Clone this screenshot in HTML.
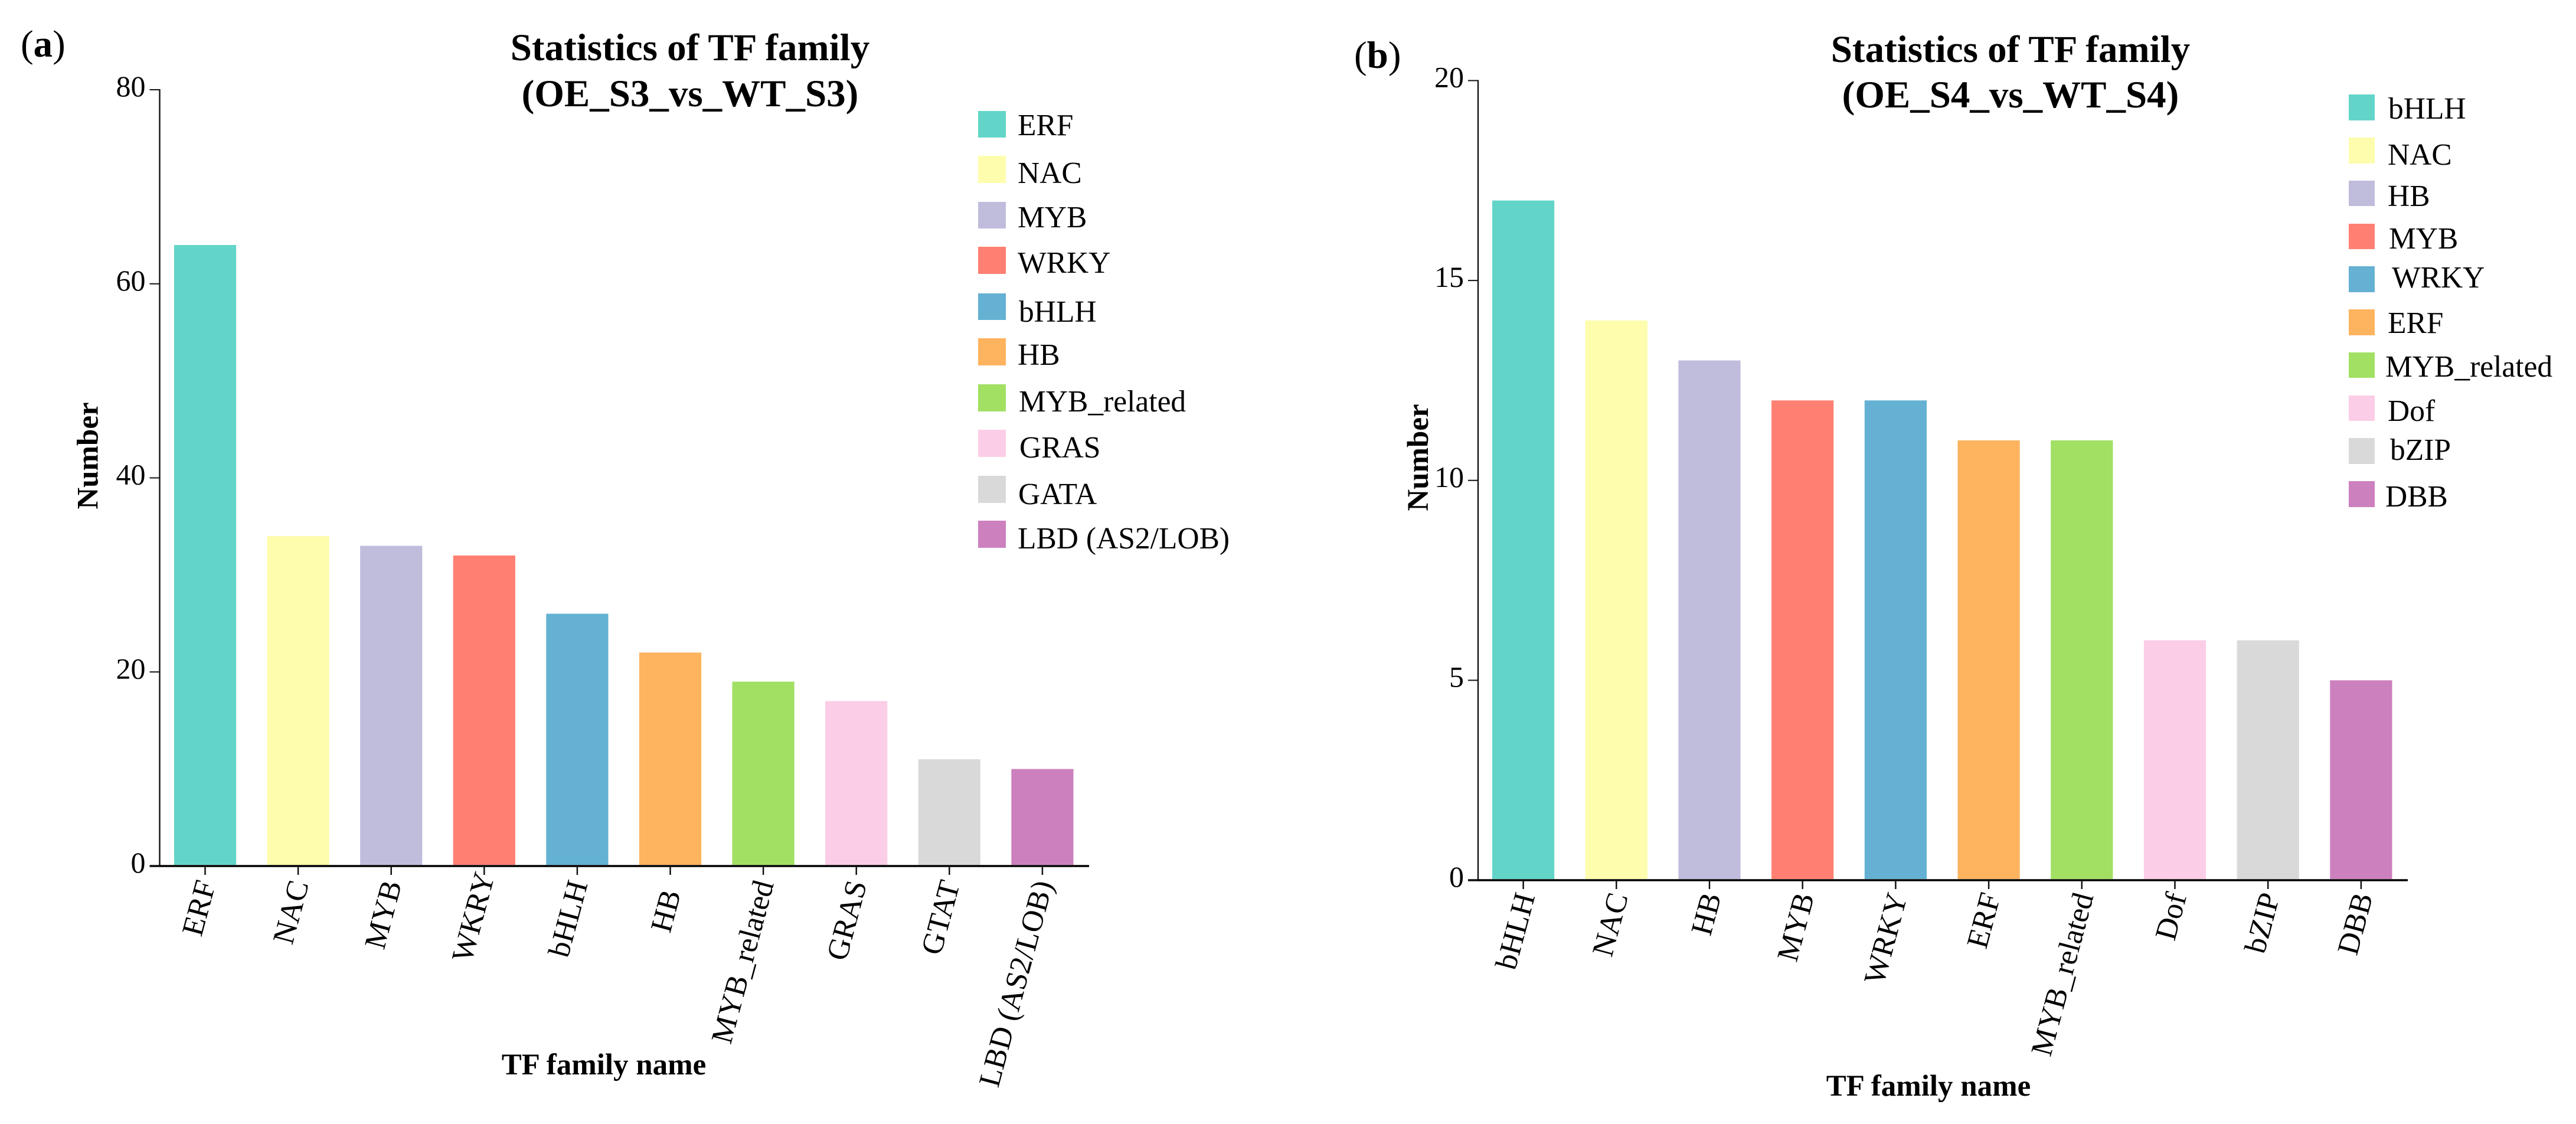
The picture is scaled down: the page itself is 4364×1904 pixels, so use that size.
<!DOCTYPE html>
<html lang="en">
<head>
<meta charset="utf-8">
<title>Statistics of TF family</title>
<style>
  html, body { margin: 0; padding: 0; background: #fff; }
  svg { display: block; font-family: "Liberation Serif", serif; }
  .title { font-size: 65px; font-weight: bold; text-anchor: middle; }
  .axis-title { font-size: 51px; font-weight: bold; text-anchor: middle; }
  .panel { font-size: 65px; }
  .panel tspan.b { font-weight: bold; }
  .legend-text { font-size: 51.5px; }
</style>
</head>
<body>
<svg id="figure" xmlns="http://www.w3.org/2000/svg" width="4364" height="1904" viewBox="0 0 4364 1904">
  <rect width="4364" height="1904" fill="#ffffff"/>

  <text class="panel" x="35" y="96">(<tspan class="b">a</tspan>)</text>
  <text class="title" x="1169" y="102">Statistics of TF family</text>
  <text class="title" x="1169" y="180">(OE_S3_vs_WT_S3)</text>
  <text class="axis-title" transform="translate(165.5 772) rotate(-90)">Number</text>
  <text class="axis-title" x="1023" y="1820">TF family name</text>
  <g id="chart-a"></g>

  <g>
    <rect x="1657" y="188" width="47" height="45" fill="#62d5c8"/>
    <text class="legend-text" x="1724" y="229">ERF</text>
    <rect x="1657" y="264" width="47" height="46" fill="#fdfdad"/>
    <text class="legend-text" x="1724" y="310">NAC</text>
    <rect x="1657" y="342" width="47" height="45" fill="#c0bcdc"/>
    <text class="legend-text" x="1724" y="385">MYB</text>
    <rect x="1657" y="418" width="47" height="46" fill="#ff8072"/>
    <text class="legend-text" x="1724" y="462">WRKY</text>
    <rect x="1657" y="497" width="47" height="45" fill="#64b1d3"/>
    <text class="legend-text" x="1726" y="545">bHLH</text>
    <rect x="1657" y="573" width="47" height="46" fill="#feb35f"/>
    <text class="legend-text" x="1724" y="618">HB</text>
    <rect x="1657" y="651" width="47" height="46" fill="#a1e063"/>
    <text class="legend-text" x="1726" y="697">MYB_related</text>
    <rect x="1657" y="728" width="47" height="46" fill="#fccde6"/>
    <text class="legend-text" x="1727" y="775">GRAS</text>
    <rect x="1657" y="806" width="47" height="46" fill="#d9d9d9"/>
    <text class="legend-text" x="1725" y="854">GATA</text>
    <rect x="1657" y="882" width="47" height="46" fill="#cd80be"/>
    <text class="legend-text" x="1724" y="929">LBD (AS2/LOB)</text>
  </g>

  <text class="panel" x="2294" y="115">(<tspan class="b">b</tspan>)</text>
  <text class="title" x="3406" y="105">Statistics of TF family</text>
  <text class="title" x="3406" y="182">(OE_S4_vs_WT_S4)</text>
  <text class="axis-title" transform="translate(2419 775) rotate(-90)">Number</text>
  <text class="axis-title" x="3267" y="1856">TF family name</text>
  <g id="chart-b"></g>

  <g>
    <rect x="3979" y="160" width="44" height="44" fill="#62d5c8"/>
    <text class="legend-text" x="4046" y="201">bHLH</text>
    <rect x="3979" y="233" width="44" height="44" fill="#fdfdad"/>
    <text class="legend-text" x="4045" y="279">NAC</text>
    <rect x="3979" y="306" width="44" height="43" fill="#c0bcdc"/>
    <text class="legend-text" x="4045" y="349">HB</text>
    <rect x="3979" y="379" width="44" height="43" fill="#ff8072"/>
    <text class="legend-text" x="4047" y="421">MYB</text>
    <rect x="3979" y="451" width="44" height="44" fill="#64b1d3"/>
    <text class="legend-text" x="4052" y="487">WRKY</text>
    <rect x="3979" y="524" width="44" height="44" fill="#feb35f"/>
    <text class="legend-text" x="4045" y="564">ERF</text>
    <rect x="3979" y="597" width="44" height="43" fill="#a1e063"/>
    <text class="legend-text" x="4041" y="638">MYB_related</text>
    <rect x="3979" y="670" width="44" height="43" fill="#fccde6"/>
    <text class="legend-text" x="4045" y="713">Dof</text>
    <rect x="3979" y="742" width="44" height="44" fill="#d9d9d9"/>
    <text class="legend-text" x="4049" y="779">bZIP</text>
    <rect x="3979" y="815" width="44" height="44" fill="#cd80be"/>
    <text class="legend-text" x="4041" y="858">DBB</text>
  </g>
</svg>

<script>
const barColors = ['#62d5c8', '#fdfdad', '#c0bcdc', '#ff8072', '#64b1d3', '#feb35f', '#a1e063', '#fccde6', '#d9d9d9', '#cd80be'];

const categoriesA = ['ERF', 'NAC', 'MYB', 'WKRY', 'bHLH', 'HB', 'MYB_related', 'GRAS', 'GTAT', 'LBD (AS2/LOB)'];
const valuesA = [64, 34, 33, 32, 26, 22, 19, 17, 11, 10];
const ticksA = [0, 20, 40, 60, 80];

const categoriesB = ['bHLH', 'NAC', 'HB', 'MYB', 'WRKY', 'ERF', 'MYB_related', 'Dof', 'bZIP', 'DBB'];
const valuesB = [17, 14, 13, 12, 12, 11, 11, 6, 6, 5];
const ticksB = [0, 5, 10, 15, 20];

const SVG_NS = 'http://www.w3.org/2000/svg';

function drawChart(cfg) {
  const root = document.getElementById(cfg.id);
  const yMax = cfg.ticks[cfg.ticks.length - 1];
  const yScale = function (v) { return cfg.zeroY - (v / yMax) * (cfg.zeroY - cfg.topY); };
  const xScale = function (i) { return cfg.firstX + i * cfg.stepX; };

  function make(tag, attrs, text) {
    const el = document.createElementNS(SVG_NS, tag);
    Object.keys(attrs).forEach(function (k) { el.setAttribute(k, attrs[k]); });
    if (text !== undefined) el.textContent = text;
    root.appendChild(el);
    return el;
  }

  cfg.values.forEach(function (v, i) {
    const bar = make('rect', {
      x: xScale(i) - cfg.barW / 2,
      y: yScale(v),
      width: cfg.barW,
      height: cfg.zeroY - 2 - yScale(v),
      fill: barColors[i]
    });
    
    
  });

  const yAxis = make('line', { x1: cfg.axisX, x2: cfg.axisX, y1: cfg.topY - 1, y2: cfg.zeroY, stroke: '#111', 'stroke-width': 2.4 });
  
  

  const xAxis = make('line', { x1: cfg.axisX - 17, x2: cfg.axisEnd, y1: cfg.zeroY, y2: cfg.zeroY, stroke: '#000', 'stroke-width': 3.6 });
  
  

  cfg.ticks.forEach(function (t) {
    const y = yScale(t);
    const mark = make('line', { x1: cfg.axisX - 17, x2: cfg.axisX, y1: y, y2: y, stroke: '#111', 'stroke-width': 2 });
    
    
    const label = make('text', { x: cfg.axisX - 24, y: y + 11, 'text-anchor': 'end', 'font-size': 50 }, String(t));
    
    
  });

  cfg.categories.forEach(function (name, i) {
    const cx = xScale(i);
    const mark = make('line', { x1: cx, x2: cx, y1: cfg.zeroY, y2: cfg.zeroY + 15, stroke: '#111', 'stroke-width': 2.5 });
    
    
    const nudge = cfg.labelNudge[name] || 0;
    const ax = cx + cfg.labelDX;
    const ay = cfg.labelY + nudge;
    const label = make('text', { 'text-anchor': 'end', 'font-size': 51.5, transform: 'translate(' + ax + ' ' + ay + ') rotate(-75)' }, name);
    
    
  });
}

drawChart({
  id: 'chart-a', key: 'a',
  categories: categoriesA, values: valuesA, ticks: ticksA,
  zeroY: 1467, topY: 152, axisX: 270.5, axisEnd: 1845,
  firstX: 347.5, stepX: 157.6, barW: 105.2,
  labelDX: 18, labelY: 1497, labelNudge: { HB: 16, WKRY: -14 }
});

drawChart({
  id: 'chart-b', key: 'b',
  categories: categoriesB, values: valuesB, ticks: ticksB,
  zeroY: 1491, topY: 136.5, axisX: 2504, axisEnd: 4079,
  firstX: 2580.6, stepX: 157.7, barW: 105.2,
  labelDX: 20, labelY: 1518, labelNudge: {}
});
</script>
</body>
</html>
